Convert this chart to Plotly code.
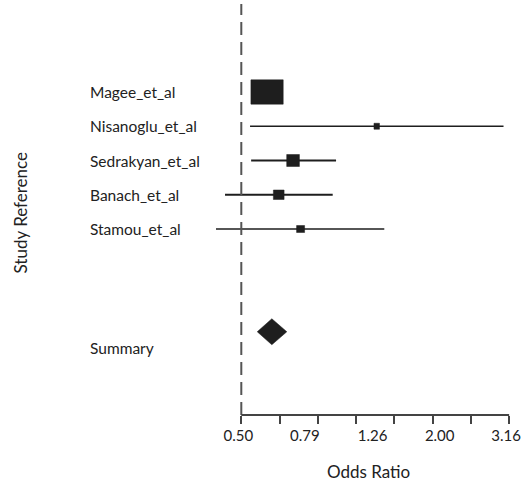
import numpy as np
import plotly.graph_objects as go

# ---- data ----
studies = ["Magee_et_al", "Nisanoglu_et_al", "Sedrakyan_et_al", "Banach_et_al", "Stamou_et_al"]
odds_ratio = [0.597, 1.27, 0.714, 0.647, 0.752]
ci_low = [0.56, 0.531, 0.535, 0.447, 0.420]
ci_high = [0.64, 3.04, 0.96, 0.938, 1.338]
summary_label = "Summary"
summary_or = 0.617
summary_low = 0.558
summary_high = 0.684
tick_labels = ["0.50", "0.79", "1.26", "2.00", "3.16"]
tick_values = [0.50, 0.79, 1.26, 2.00, 3.16]

# ---- style ----
W, H = 530, 483
ML, MR, MT, MB = 0, 0, 4, 68
PX_PER_DECADE = 334.5
X0_PX = 241.3          # pixel of x=0.5
PX_PER_ROW = 34.25
box_w_px = [32.3, 5.5, 12.7, 10.7, 8.0]
box_h_px = [24.3, 6.0, 12.0, 9.5, 7.0]
line_w = [1.5, 1.3, 2.0, 2.0, 1.6]
ink = "#1e1e1e"
font_family = "Lato"
txt = "#222222"

rows = list(range(1, len(studies) + 1))
summary_row = len(studies) + 3

plot_h = H - MT - MB
lo_log = np.log10(0.5) - X0_PX / PX_PER_DECADE
hi_log = np.log10(0.5) + (W - X0_PX) / PX_PER_DECADE
row_top = rows[0] - (92.0 - MT) / PX_PER_ROW
row_bot = row_top + plot_h / PX_PER_ROW

fig = go.Figure()

# CI lines
for i, s in enumerate(studies):
    fig.add_trace(go.Scatter(
        x=[ci_low[i], ci_high[i]], y=[rows[i], rows[i]], mode="lines",
        line=dict(color=ink, width=line_w[i]), showlegend=False, hoverinfo="skip"))

# boxes (rectangles sized by weight)
bx, by = [], []
for i, s in enumerate(studies):
    c = np.log10(odds_ratio[i])
    hw = box_w_px[i] / 2 / PX_PER_DECADE
    hh = box_h_px[i] / 2 / PX_PER_ROW
    xs = [10 ** (c - hw), 10 ** (c + hw), 10 ** (c + hw), 10 ** (c - hw), 10 ** (c - hw)]
    ys = [rows[i] - hh, rows[i] - hh, rows[i] + hh, rows[i] + hh, rows[i] - hh]
    bx += xs + [None]
    by += ys + [None]
fig.add_trace(go.Scatter(x=bx, y=by, mode="lines", fill="toself", fillcolor=ink,
                         line=dict(color=ink, width=0.5), showlegend=False, hoverinfo="skip"))

# summary diamond
dh = 13.0 / PX_PER_ROW
fig.add_trace(go.Scatter(
    x=[summary_low, summary_or, summary_high, summary_or, summary_low],
    y=[summary_row, summary_row - dh, summary_row, summary_row + dh, summary_row],
    mode="lines", fill="toself", fillcolor=ink, line=dict(color=ink, width=0.5),
    showlegend=False, hoverinfo="skip"))

# dashed reference line and x axis line (shape coords in data units)
fig.add_shape(type="line", xref="x", yref="paper", x0=tick_values[0], x1=tick_values[0],
              y0=0, y1=1, line=dict(color="#555555", width=2, dash="13px,7px"))
fig.add_shape(type="line", xref="x", yref="paper", x0=tick_values[0],
              x1=tick_values[-1], y0=0, y1=0, line=dict(color="#444444", width=2))

# study labels
labels = studies + [summary_label]
label_rows = rows + [summary_row + 0.48]
for lab, r in zip(labels, label_rows):
    fig.add_annotation(x=88 / W, xref="paper", y=r, yref="y", text=lab, showarrow=False,
                       xanchor="left", yanchor="middle",
                       font=dict(family=font_family, size=15.5, color=txt))

# axis titles
fig.add_annotation(x=20 / W, xref="paper", y=(H - MB - 212.5) / plot_h, yref="paper",
                   text="Study Reference", textangle=-90, showarrow=False,
                   xanchor="center", yanchor="middle",
                   font=dict(family=font_family, size=17, color=txt))
fig.add_annotation(x=368 / W, xref="paper", y=(H - MB - 471.7) / plot_h, yref="paper",
                   text="Odds Ratio", showarrow=False, xanchor="center", yanchor="middle",
                   font=dict(family=font_family, size=17, color=txt))

minor_ticks = list(np.logspace(np.log10(tick_values[0]), np.log10(tick_values[-1]), 8))

fig.update_layout(
    width=W, height=H, margin=dict(l=ML, r=MR, t=MT, b=MB),
    paper_bgcolor="white", plot_bgcolor="white",
    xaxis=dict(type="log", range=[lo_log, hi_log], showgrid=False, zeroline=False,
               showline=False, tickvals=tick_values, ticktext=tick_labels, ticks="",
               ticklabelshift=-3, ticklabelstandoff=10,
               tickfont=dict(family=font_family, size=15, color=txt),
               minor=dict(tickvals=minor_ticks, ticks="outside", ticklen=8, tickwidth=2,
                          tickcolor="#444444", showgrid=False)),
    yaxis=dict(range=[row_bot, row_top], showgrid=False, zeroline=False, showline=False,
               showticklabels=False, ticks=""),
)

fig.write_html("out.html", config={"displayModeBar": False},
               post_script="document.body.style.margin='0px';")
